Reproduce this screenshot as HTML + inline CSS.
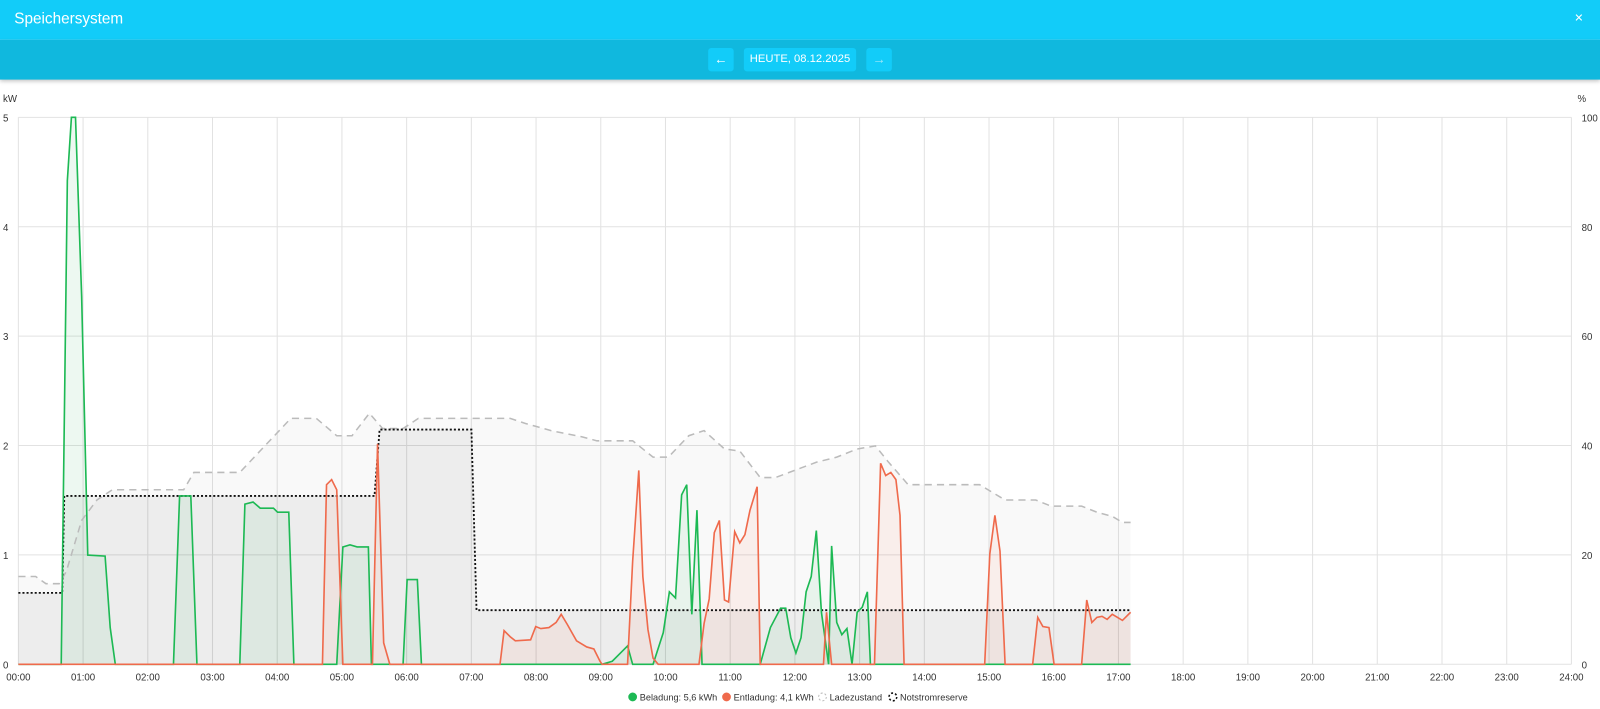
<!DOCTYPE html>
<html><head><meta charset="utf-8"><style>
html,body{margin:0;padding:0;width:1600px;height:709px;overflow:hidden;background:#fff;font-family:"Liberation Sans",sans-serif}
#w{position:absolute;left:0;top:0;width:1568px;height:695px;transform:scale(1.020408);transform-origin:0 0}
.h1{position:absolute;left:0;top:0;width:1568px;height:39px;background:#12ccf9;color:#fff;font-size:15px}
.h2{position:absolute;left:0;top:39px;width:1568px;height:39px;background:#10b8de;box-shadow:0 2px 4px rgba(0,0,0,.25)}
.btn{position:absolute;top:8px;height:23px;background:#12ccf9;border-radius:3px;color:#fff;font-size:11px;line-height:23px;text-align:center}
</style></head><body><div id="w">
<div class="h1"><span style="position:absolute;left:14px;top:10px">Speichersystem</span><span style="position:absolute;right:16px;top:11px;font-size:11px">✕</span></div>
<div class="h2">
<div class="btn" style="left:694px;width:25px;font-size:13px;font-weight:bold;line-height:21px">←</div>
<div class="btn" style="left:729px;width:110px">HEUTE, 08.12.2025</div>
<div class="btn" style="left:849px;width:25px;color:#9fe6f7;font-size:13px;line-height:21px">→</div>
</div>
<svg width="1568" height="695" style="position:absolute;left:0;top:0" font-family="Liberation Sans, sans-serif" font-size="9.5" fill="#333">
<g stroke="#e2e2e2" stroke-width="1" id="grid"></g>
<text x="3" y="100">kW</text><text x="1546" y="100">%</text>
<g id="yl"></g><g id="xl"></g>
<polygon id="socA" fill="rgba(0,0,0,0.025)"/>
<polygon id="nsA" fill="rgba(0,0,0,0.05)"/>
<polygon id="gA" fill="rgba(20,170,80,0.08)"/>
<polygon id="oA" fill="rgba(240,100,70,0.08)"/>
<polyline id="soc" fill="none" stroke="#bbb" stroke-width="1.5" stroke-dasharray="7,5"/>
<polyline id="ns" fill="none" stroke="#111" stroke-width="1.8" stroke-dasharray="2,2"/>
<polyline id="g" fill="none" stroke="#1db954" stroke-width="1.6"/>
<polyline id="o" fill="none" stroke="#ef6a4c" stroke-width="1.6"/>
<g font-size="9">
<circle cx="620" cy="683" r="4.3" fill="#1db954"/><text x="627" y="686.5">Beladung: 5,6 kWh</text>
<circle cx="712" cy="683" r="4.3" fill="#ef6a4c"/><text x="719" y="686.5">Entladung: 4,1 kWh</text>
<circle cx="806" cy="683" r="3.8" fill="none" stroke="#bbb" stroke-dasharray="2,2"/><text x="813" y="686.5">Ladezustand</text>
<circle cx="875" cy="683" r="3.8" fill="none" stroke="#111" stroke-width="1.5" stroke-dasharray="2,2"/><text x="882" y="686.5">Notstromreserve</text>
</g>
</svg></div>
<script>
const px=(1540-18)/24;
let g='',yl='',xl='';
for(let i=0;i<=24;i++){const x=18+i*px;g+=`<line x1="${x}" y1="115" x2="${x}" y2="651"/>`;
xl+=`<text x="${x}" y="667" text-anchor="middle">${String(i).padStart(2,'0')}:00</text>`;}
for(let k=0;k<=5;k++){const y=651-k*107.2;g+=`<line x1="18" y1="${y}" x2="1540" y2="${y}"/>`;
yl+=`<text x="3" y="${y+4}">${k}</text><text x="1550" y="${y+4}">${k*20}</text>`;}
document.getElementById('grid').innerHTML=g;document.getElementById('yl').innerHTML=yl;document.getElementById('xl').innerHTML=xl;
const soc=[[18,565],[35,565],[45,572],[58,572],[65,560],[80,510],[95,490],[110,480],[125,480],[180,480],[190,463],[235,463],[285,410],[310,410],[330,427],[345,427],[362,405],[375,420],[395,420],[410,410],[500,410],[515,415],[540,422],[570,428],[585,432],[620,432],[640,448],[655,448],[675,427],[690,422],[710,440],[725,442],[745,468],[760,468],[800,453],[820,448],[840,440],[858,437],[870,452],[890,475],[960,475],[985,490],[1015,490],[1030,496],[1060,496],[1075,502],[1090,506],[1100,512],[1108,512]];
const ns=[[18,581],[61,581],[63,486],[367,486],[372,421],[462,421],[467,598],[1108,598]];
const gr=[[18,651],[60,651],[66,177],[70,115],[74,115],[80,290],[86,544],[103,545],[108,615],[113,651],[170,651],[176,486],[187,486],[193,651],[235,651],[240,494],[248,492],[255,498],[268,498],[272,502],[283,502],[288,651],[330,651],[336,536],[343,534],[350,536],[361,536],[364,651],[395,651],[399,568],[409,568],[413,651],[590,651],[600,648],[608,640],[615,633],[620,651],[640,651],[650,620],[656,580],[662,586],[668,485],[673,475],[678,602],[683,500],[688,651],[745,651],[755,615],[765,596],[770,596],[775,625],[780,640],[785,625],[790,580],[795,565],[800,520],[805,600],[812,651],[815,535],[820,610],[825,622],[830,616],[835,651],[840,600],[845,595],[850,580],[853,651],[1108,651]];
const or=[[18,651],[316,651],[320,475],[325,470],[330,480],[336,651],[365,651],[370,435],[376,630],[382,651],[490,651],[494,618],[500,624],[505,628],[520,627],[525,614],[530,616],[538,615],[545,610],[550,602],[556,612],[565,628],[575,634],[582,636],[588,648],[590,651],[615,651],[620,550],[626,461],[630,565],[635,617],[640,645],[645,651],[685,651],[690,611],[695,587],[700,522],[705,510],[710,588],[714,590],[720,521],[725,532],[730,524],[735,500],[742,477],[745,651],[807,651],[810,600],[815,651],[857,651],[863,454],[868,466],[873,463],[878,470],[882,505],[886,651],[965,651],[970,543],[975,505],[980,540],[985,651],[1012,651],[1017,605],[1022,614],[1028,615],[1033,651],[1060,651],[1065,588],[1070,610],[1075,605],[1080,604],[1085,607],[1090,602],[1095,605],[1100,608],[1108,600]];
const s=a=>a.map(p=>p.join(',')).join(' ');
const ar=a=>s(a)+` ${a[a.length-1][0]},651 ${a[0][0]},651`;
const set=(id,attr,v)=>document.getElementById(id).setAttribute(attr,v);
set('soc','points',s(soc));set('socA','points',ar(soc));
set('ns','points',s(ns));set('nsA','points',ar(ns));
set('g','points',s(gr));set('gA','points',ar(gr));
set('o','points',s(or));set('oA','points',ar(or));
</script>
</body></html>
